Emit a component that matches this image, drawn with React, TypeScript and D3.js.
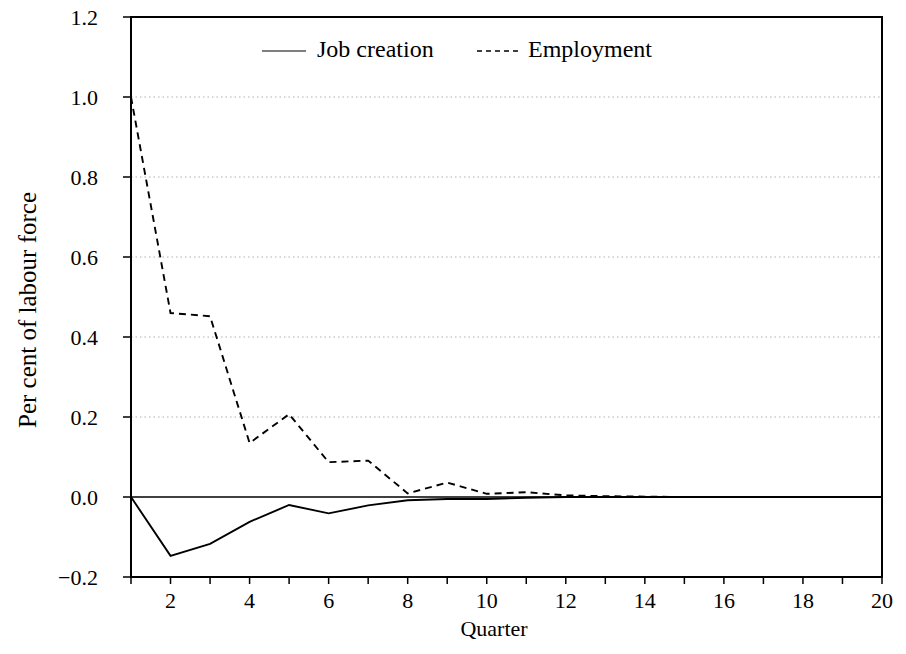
import React from "react";
import * as d3 from "d3";

const quarters = [1, 2, 3, 4, 5, 6, 7, 8, 9, 10, 11, 12, 13, 14, 15, 16, 17, 18, 19, 20];
const jobCreation = [0, -0.147, -0.117, -0.062, -0.02, -0.041, -0.021, -0.008, -0.005, -0.005, -0.002, 0, 0, 0, 0, 0, 0, 0, 0, 0];
const employment = [1.0, 0.46, 0.452, 0.135, 0.207, 0.087, 0.091, 0.009, 0.036, 0.008, 0.012, 0.004, 0.002, 0.001, 0, 0, 0, 0, 0, 0];
const yTicks = [-0.2, 0, 0.2, 0.4, 0.6, 0.8, 1.0, 1.2];
const gridValues = [0.2, 0.4, 0.6, 0.8, 1.0];
const xLabelTicks = [2, 4, 6, 8, 10, 12, 14, 16, 18, 20];

const W = 906;
const H = 654;
const M = { left: 131, right: 882, top: 17, bottom: 577 };
const FONT = "'Liberation Serif', 'Times New Roman', serif";

export default function App() {
  const x = d3.scaleLinear().domain([1, 20]).range([M.left, M.right]);
  const y = d3.scaleLinear().domain([-0.2, 1.2]).range([M.bottom, M.top]);
  const line = d3
    .line<number>()
    .x((_, i) => x(quarters[i]))
    .y((d) => y(d));

  return (
    <svg width={W} height={H} style={{ position: "absolute", left: 0, top: 0, background: "#fff" }}>
      <rect x={0} y={0} width={W} height={H} fill="#fff" />
      {gridValues.map((v) => (
        <line
          key={"g" + v}
          x1={M.left}
          x2={M.right}
          y1={y(v)}
          y2={y(v)}
          stroke="#9a9a9a"
          strokeWidth={0.8}
          strokeDasharray="1.5,3"
        />
      ))}
      <line x1={M.left} x2={M.right} y1={y(0)} y2={y(0)} stroke="#000" strokeWidth={1.4} />
      <path d={line(jobCreation) || ""} fill="none" stroke="#000" strokeWidth={1.9} strokeLinejoin="miter" />
      <path d={line(employment) || ""} fill="none" stroke="#000" strokeWidth={1.9} strokeDasharray="7,5" />
      <rect
        x={M.left}
        y={M.top}
        width={M.right - M.left}
        height={M.bottom - M.top}
        fill="none"
        stroke="#000"
        strokeWidth={2}
      />
      {yTicks.map((v) => (
        <g key={"y" + v}>
          <line x1={M.left - 8} x2={M.left} y1={y(v)} y2={y(v)} stroke="#000" strokeWidth={1.5} />
          <text
            x={98}
            y={y(v)}
            dy="0.35em"
            textAnchor="end"
            fontFamily={FONT}
            fontSize={22}
            fill="#000"
          >
            {v < 0 ? "\u2212" + Math.abs(v).toFixed(1) : v.toFixed(1)}
          </text>
        </g>
      ))}
      {quarters.map((q) => (
        <line key={"xt" + q} x1={x(q)} x2={x(q)} y1={M.bottom} y2={M.bottom + 7} stroke="#000" strokeWidth={1.5} />
      ))}
      {xLabelTicks.map((q) => (
        <text key={"xl" + q} x={x(q)} y={608} textAnchor="middle" fontFamily={FONT} fontSize={22} fill="#000">
          {q}
        </text>
      ))}
      <text x={494} y={636} textAnchor="middle" fontFamily={FONT} fontSize={22} fill="#000">
        Quarter
      </text>
      <text
        transform={`translate(36, 310) rotate(-90)`}
        textAnchor="middle"
        fontFamily={FONT}
        fontSize={25}
        fill="#000"
      >
        Per cent of labour force
      </text>
      <line x1={262} x2={306} y1={51} y2={51} stroke="#000" strokeWidth={1.2} />
      <text x={317} y={57} fontFamily={FONT} fontSize={24} fill="#000">
        Job creation
      </text>
      <line x1={477} x2={522} y1={51} y2={51} stroke="#000" strokeWidth={1.4} strokeDasharray="5,4" />
      <text x={528} y={57} fontFamily={FONT} fontSize={24} fill="#000">
        Employment
      </text>
    </svg>
  );
}
